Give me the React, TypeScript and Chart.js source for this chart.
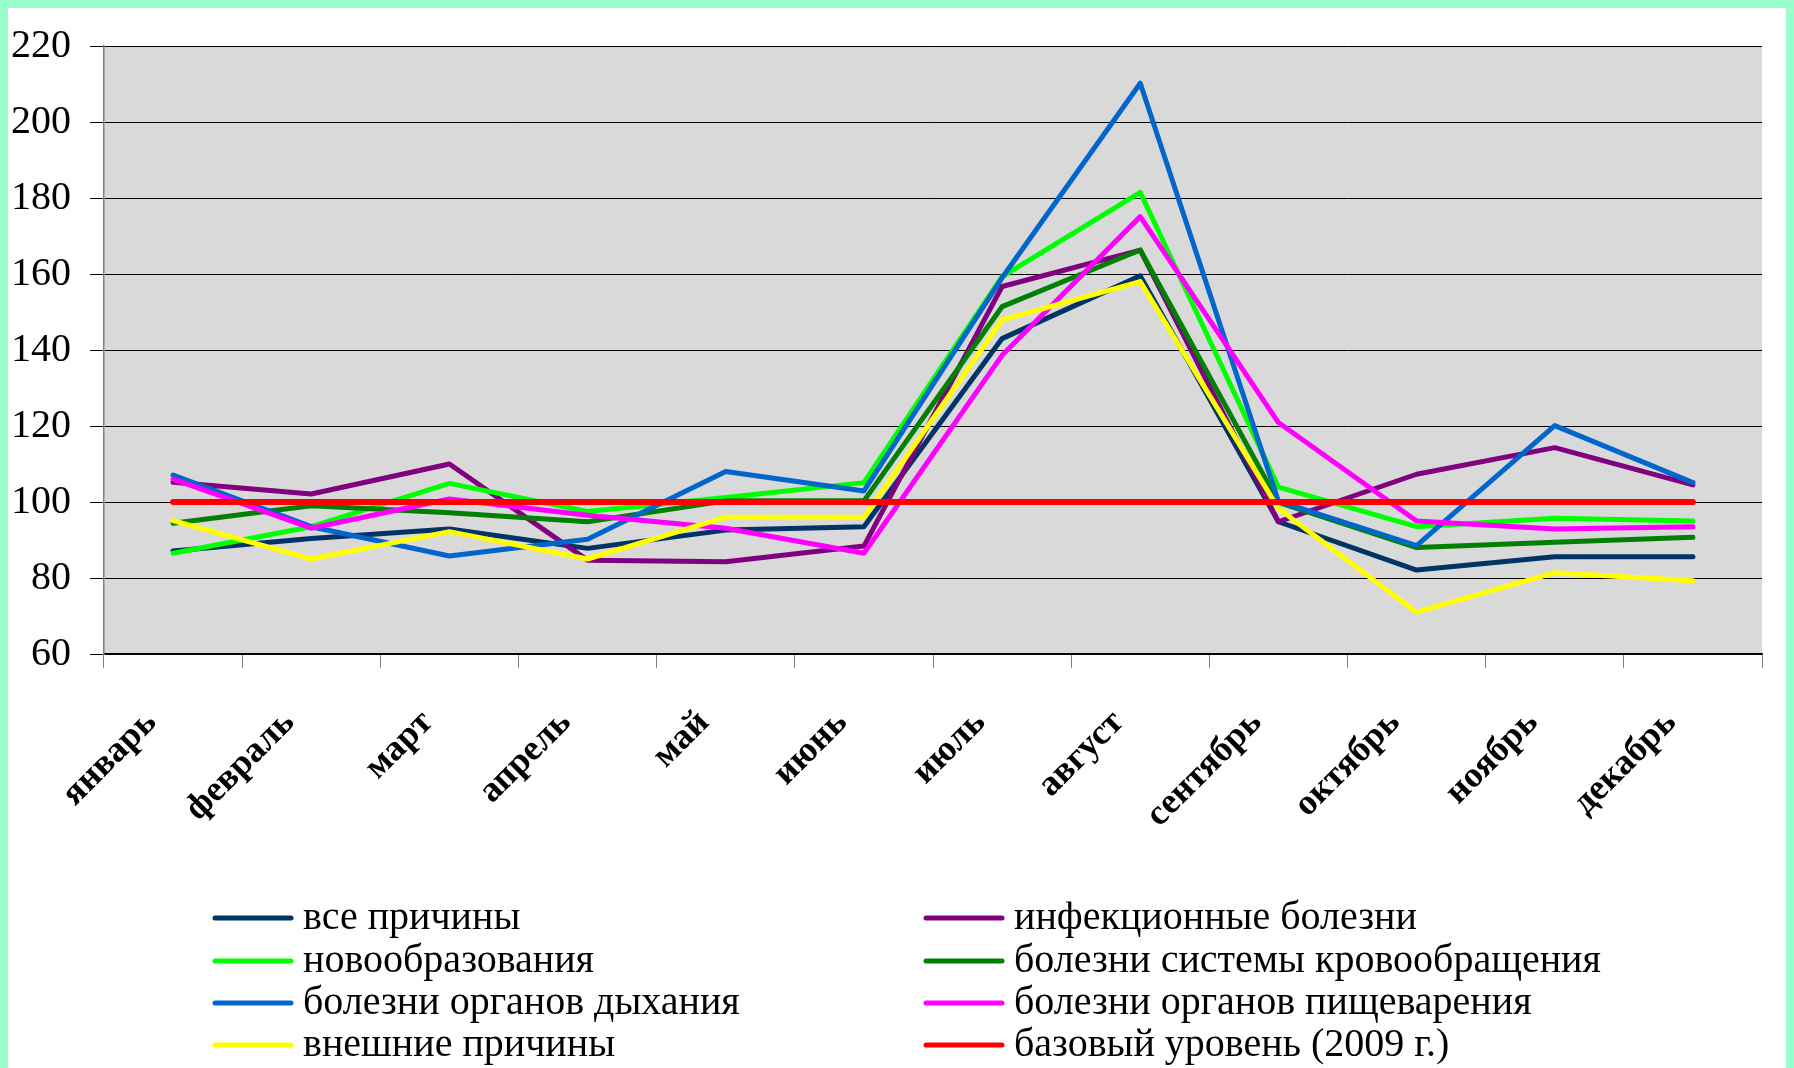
import React, { useEffect, useRef } from 'react';
import { Chart, registerables } from 'chart.js';

Chart.register(...registerables);

const months = [
  'январь', 'февраль', 'март', 'апрель', 'май', 'июнь',
  'июль', 'август', 'сентябрь', 'октябрь', 'ноябрь', 'декабрь',
];

const allCauses = [87.1, 90.4, 92.9, 87.8, 92.6, 93.5, 143.0, 159.5, 94.8, 82.1, 85.6, 85.6];
const infectious = [105.2, 102.1, 110.0, 84.7, 84.3, 88.4, 156.7, 166.3, 94.8, 107.3, 114.3, 104.5];
const neoplasms = [86.5, 93.5, 104.9, 97.5, 101.2, 105.1, 159.3, 181.5, 103.9, 93.5, 95.7, 95.0];
const circulatory = [94.4, 99.0, 97.2, 94.8, 100.3, 100.3, 151.4, 166.3, 99.9, 88.0, 89.4, 90.7];
const respiratory = [107.1, 93.5, 85.8, 90.2, 108.0, 102.9, 159.0, 210.2, 100.2, 88.5, 120.1, 105.1];
const digestive = [106.0, 93.1, 100.8, 96.5, 93.1, 86.5, 138.6, 175.1, 120.9, 95.0, 92.9, 93.5];
const external = [95.1, 85.0, 92.2, 85.0, 96.0, 96.0, 147.9, 158.0, 98.3, 71.0, 81.4, 79.3];
const baseline = [100, 100, 100, 100, 100, 100, 100, 100, 100, 100, 100, 100];

const seriesNames = [
  'все причины',
  'инфекционные болезни',
  'новообразования',
  'болезни системы кровообращения',
  'болезни органов дыхания',
  'болезни органов пищеварения',
  'внешние причины',
  'базовый уровень (2009 г.)',
];

const seriesColors = [
  '#003366', '#800080', '#00FF00', '#008000',
  '#0066CC', '#FF00FF', '#FFFF00', '#FF0000',
];

const yMin = 60;
const yMax = 220;
const yStep = 20;

const FONT = "'Liberation Serif', 'Times New Roman', 'DejaVu Serif', serif";

export default function App() {
  const ref = useRef<HTMLCanvasElement>(null);

  useEffect(() => {
    document.body.style.background = '#99FFCC';
    document.body.style.overflow = 'hidden';
    document.documentElement.style.overflow = 'hidden';

    const seriesValues = [allCauses, infectious, neoplasms, circulatory, respiratory, digestive, external, baseline];
    const datasets = seriesValues.map((data, i) => ({
      label: seriesNames[i],
      data,
      borderColor: seriesColors[i],
      backgroundColor: seriesColors[i],
      borderWidth: i === seriesValues.length - 1 ? 6 : 5,
      pointRadius: 0,
      pointHoverRadius: 0,
      tension: 0,
      fill: false,
      order: seriesValues.length - 1 - i,
      borderCapStyle: 'round' as const,
      borderJoinStyle: 'round' as const,
    }));

    const bgPlugin = {
      id: 'bgPlugin',
      beforeDraw(chart: any) {
        const { ctx, chartArea: a, width, height } = chart;
        ctx.save();
        ctx.fillStyle = '#FFFFFF';
        ctx.fillRect(0, 0, width, height);
        ctx.fillStyle = '#D9D9D9';
        ctx.fillRect(a.left, a.top, a.right - a.left, a.bottom - a.top);
        ctx.restore();
      },
    };

    const legendPlugin = {
      id: 'customLegend',
      afterDraw(chart: any) {
        const ctx = chart.ctx;
        const colX = [207, 918];
        const rowY = [910, 953, 995, 1037];
        ctx.save();
        ctx.font = `40px ${FONT}`;
        ctx.textBaseline = 'middle';
        ctx.textAlign = 'left';
        chart.data.datasets.forEach((ds: any, i: number) => {
          const x = colX[i % 2];
          const y = rowY[Math.floor(i / 2)];
          ctx.strokeStyle = ds.borderColor;
          ctx.lineWidth = 5;
          ctx.lineCap = 'round';
          ctx.beginPath();
          ctx.moveTo(x, y);
          ctx.lineTo(x + 76, y);
          ctx.stroke();
          ctx.fillStyle = '#000000';
          ctx.fillText(ds.label, x + 88, y);
        });
        ctx.restore();
      },
    };

    const chart = new Chart(ref.current as HTMLCanvasElement, {
      type: 'line',
      data: { labels: months, datasets },
      options: {
        responsive: false,
        animation: false,
        devicePixelRatio: 1,
        layout: { padding: { left: 0, right: 32, top: 38, bottom: 120 } },
        plugins: {
          legend: { display: false },
          tooltip: { enabled: false },
        },
        scales: {
          x: {
            type: 'category',
            offset: true,
            grid: {
              display: true,
              offset: true,
              drawOnChartArea: false,
              drawTicks: true,
              tickLength: 14,
              color: '#808080',
              lineWidth: 1,
            },
            border: { display: true, color: '#000000', width: 1.5 },
            ticks: {
              autoSkip: false,
              minRotation: 45,
              maxRotation: 45,
              padding: 34,
              labelOffset: -22,
              color: '#000000',
              font: { family: FONT, size: 36, weight: 'bold' },
            },
            afterFit: (s: any) => {
              s.height = 294;
              s.paddingLeft = 0;
              s.paddingRight = 0;
            },
          },
          y: {
            min: yMin,
            max: yMax,
            ticks: {
              stepSize: yStep,
              padding: 19,
              color: '#000000',
              font: { family: FONT, size: 40 },
            },
            grid: { color: '#000000', lineWidth: 1, tickLength: 14, drawTicks: true },
            border: { display: true, color: '#808080', width: 1.5 },
            afterFit: (s: any) => {
              s.width = 96;
              s.paddingTop = 0;
              s.paddingBottom = 0;
            },
          },
        },
      } as any,
      plugins: [bgPlugin, legendPlugin],
    });

    return () => chart.destroy();
  }, []);

  return (
    <canvas
      ref={ref}
      width={1786}
      height={1060}
      style={{ display: 'block', width: '1786px', height: '1060px' }}
    />
  );
}
